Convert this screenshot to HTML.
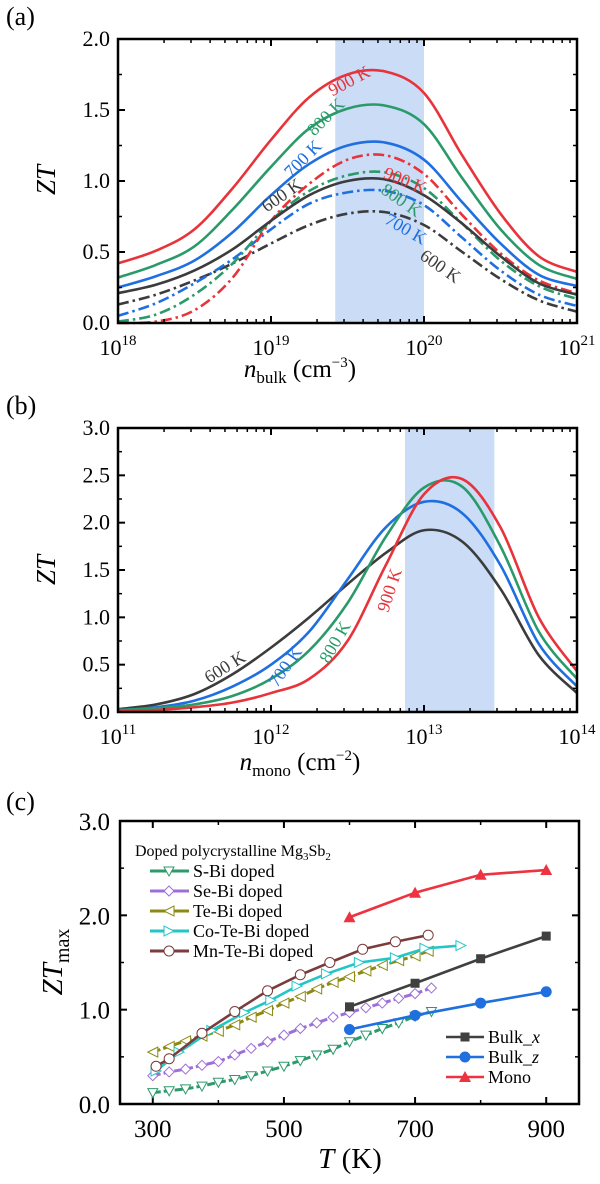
<!DOCTYPE html>
<html><head><meta charset="utf-8">
<style>
html,body{margin:0;padding:0;background:#fff;}
svg, svg text{font-family:"Liberation Serif","DejaVu Serif",serif;}
</style></head>
<body>
<svg id="fig" width="600" height="1179" viewBox="0 0 600 1179" xmlns="http://www.w3.org/2000/svg" font-family="Liberation Serif, DejaVu Serif, serif"></svg>
<script>
// ---------- Panel (a) data ----------
const aLogN = [18,18.25,18.5,18.75,19,19.25,19.5,19.75,20,20.25,20.5,20.75,21];
const aSolid900 = [0.42,0.51,0.66,0.95,1.29,1.59,1.75,1.77,1.62,1.18,0.77,0.47,0.36];
const aSolid800 = [0.32,0.41,0.54,0.80,1.10,1.37,1.51,1.53,1.40,1.02,0.66,0.41,0.31];
const aSolid700 = [0.25,0.33,0.44,0.64,0.90,1.12,1.25,1.27,1.15,0.85,0.56,0.34,0.26];
const aSolid600 = [0.21,0.27,0.37,0.52,0.72,0.90,1.00,1.01,0.90,0.70,0.47,0.28,0.20];
const aDash900 = [0.00,0.01,0.09,0.32,0.72,0.98,1.15,1.18,1.05,0.76,0.49,0.30,0.21];
const aDash800 = [0.01,0.06,0.20,0.42,0.72,0.93,1.04,1.06,0.95,0.70,0.44,0.26,0.17];
const aDash700 = [0.05,0.14,0.28,0.45,0.66,0.84,0.92,0.93,0.83,0.60,0.37,0.20,0.12];
const aDash600 = [0.13,0.20,0.30,0.42,0.56,0.69,0.77,0.78,0.69,0.50,0.31,0.16,0.08];
const aBand = [19.42, 20.0];
const aYTicks = [0,0.5,1.0,1.5,2.0];
const aXDecades = [18,19,20,21];
// ---------- Panel (b) data ----------
const bLogN = [11,11.25,11.5,11.75,12,12.25,12.5,12.75,13,13.25,13.5,13.75,14];
const b600 = [0.03,0.08,0.19,0.40,0.68,1.00,1.35,1.68,1.92,1.80,1.30,0.60,0.20];
const b700 = [0.02,0.05,0.12,0.27,0.50,0.85,1.40,1.95,2.22,2.10,1.55,0.72,0.27];
const b800 = [0.02,0.04,0.08,0.17,0.35,0.65,1.15,1.85,2.37,2.38,1.75,0.85,0.35];
const b900 = [0.01,0.02,0.05,0.10,0.20,0.35,0.75,1.55,2.30,2.46,1.95,1.00,0.43];
const bBand = [12.876, 13.46];
const bYTicks = [0,0.5,1.0,1.5,2.0,2.5,3.0];
const bXDecades = [11,12,13,14];
// ---------- Panel (c) data ----------
const cBulkT = [600,700,800,900];
const cBulkX = [1.03,1.28,1.54,1.78];
const cBulkZ = [0.79,0.94,1.07,1.19];
const cMono = [1.98,2.24,2.43,2.48];
const cSBiT = [300,325,350,375,400,425,450,475,500,525,550,575,600,625,650,675,700,725];
const cSBi = [0.12,0.14,0.16,0.19,0.23,0.26,0.30,0.35,0.40,0.46,0.52,0.58,0.66,0.73,0.80,0.86,0.93,0.98];
const cSeBiT = [300,325,350,375,400,425,450,475,500,525,550,575,600,625,650,675,700,725];
const cSeBi = [0.30,0.34,0.37,0.41,0.45,0.52,0.59,0.66,0.73,0.80,0.86,0.92,0.97,1.02,1.07,1.12,1.17,1.23];
const cTeBiT = [300,325,350,375,400,425,450,475,500,525,550,575,600,625,650,675,700,720];
const cTeBi = [0.55,0.61,0.67,0.72,0.77,0.84,0.92,0.99,1.07,1.14,1.22,1.29,1.35,1.41,1.47,1.52,1.57,1.62];
const cCoT = [305,340,390,440,480,520,565,615,670,715,770];
const cCo = [0.35,0.55,0.78,0.97,1.10,1.25,1.38,1.50,1.55,1.65,1.68];
const cMnT = [305,325,375,425,475,525,570,620,670,720];
const cMn = [0.40,0.48,0.75,0.98,1.20,1.37,1.50,1.64,1.72,1.79];
const cYTicks = [0,1.0,2.0,3.0];
const cXTicks = [300,500,700,900];

const NS="http://www.w3.org/2000/svg";
const FF="Liberation Serif, DejaVu Serif, serif";
const svg=document.getElementById('fig');
function el(tag,attrs,parent){const e=document.createElementNS(NS,tag);for(const k in attrs)e.setAttribute(k,attrs[k]);if(tag==='text')e.setAttribute('font-family',FF);(parent||svg).appendChild(e);return e;}
function smooth(pts){
  let d=`M${pts[0][0]},${pts[0][1]}`;
  for(let i=0;i<pts.length-1;i++){
    const p0=pts[i-1]||pts[i],p1=pts[i],p2=pts[i+1],p3=pts[i+2]||p2;
    const c1=[p1[0]+(p2[0]-p0[0])/6,p1[1]+(p2[1]-p0[1])/6];
    const c2=[p2[0]-(p3[0]-p1[0])/6,p2[1]-(p3[1]-p1[1])/6];
    d+=` C${c1[0]},${c1[1]} ${c2[0]},${c2[1]} ${p2[0]},${p2[1]}`;
  }
  return d;
}
const RED="#e8333a",GRN="#2a9a6a",BLU="#1f6fe0",BLK="#3c3c3c";

function logAxes(g,L,R,T,B,dec,yt,ymax){
  const xs=v=>L+(v-dec[0])/(dec[dec.length-1]-dec[0])*(R-L);
  const ys=v=>B-v/ymax*(B-T);
  for(let i=0;i<dec.length;i++){
    const x=xs(dec[i]);
    [[B,B-7],[T,T+7]].forEach(([a,b])=>{const t=el('line',{x1:x,x2:x,y1:a,y2:b,stroke:'#000','stroke-width':2},g);});
    if(i<dec.length-1){for(let m=2;m<=9;m++){const xm=xs(dec[i]+Math.log10(m));
      [[B,B-4],[T,T+4]].forEach(([a,b])=>{const t=el('line',{x1:xm,x2:xm,y1:a,y2:b,stroke:'#000','stroke-width':1.5},g);});}}
    const tl=el('text',{x:x,y:B+32,'font-size':22,'text-anchor':'middle'},g);
    
    
    tl.innerHTML=`10<tspan dy="-10" font-size="15">${dec[i]}</tspan>`;
  }
  yt.forEach((v,i)=>{const y=ys(v);
    [[L,L+7],[R,R-7]].forEach(([a,b])=>{const t=el('line',{x1:a,x2:b,y1:y,y2:y,stroke:'#000','stroke-width':2},g);});
    if(i<yt.length-1){const ym=ys((v+yt[i+1])/2);[[L,L+4],[R,R-4]].forEach(([a,b])=>{const t=el('line',{x1:a,x2:b,y1:ym,y2:ym,stroke:'#000','stroke-width':1.5},g);});}
    const tl=el('text',{x:L-8,y:y+7,'font-size':22,'text-anchor':'end'},g);
    
    
    tl.textContent=v.toFixed(1);
  });
  return {xs,ys};
}
function frame(g,L,R,T,B){const f=el('rect',{x:L,y:T,width:R-L,height:B-T,fill:'none',stroke:'#000','stroke-width':2.5},g);}
function curve(g,xs,ys,X,Y,color,dash,name){
  const pts=X.map((x,i)=>[xs(x),ys(Y[i])]);
  const p=el('path',{d:smooth(pts),fill:'none',stroke:color,'stroke-width':2.6},g);
  if(dash)p.setAttribute('stroke-dasharray','11,4,2.5,4');
  
  
}
function rlabel(g,x,y,rot,color,txt){
  const t=el('text',{x:x,y:y,'font-size':18,fill:color,'text-anchor':'middle',transform:`rotate(${rot} ${x} ${y})`},g);
  
  
  t.textContent=txt;
}
function panelLetter(txt,y){const t=el('text',{x:6,y:y,'font-size':26});t.textContent=txt;}

// ===== Panel (a) =====
(function(){
  const g=el('g',{});
  const L=118,R=577,T=39,B=323;
  const xs=v=>L+(v-18)/3*(R-L), ys=v=>B-v/2*(B-T);
  const band=el('rect',{x:xs(aBand[0]),y:T,width:xs(aBand[1])-xs(aBand[0]),height:B-T,fill:'#cadcf6'},g);
  
  curve(g,xs,ys,aLogN,aDash600,BLK,true,'line-600k-z');
  curve(g,xs,ys,aLogN,aDash700,BLU,true,'line-700k-z');
  curve(g,xs,ys,aLogN,aDash800,GRN,true,'line-800k-z');
  curve(g,xs,ys,aLogN,aDash900,RED,true,'line-900k-z');
  curve(g,xs,ys,aLogN,aSolid600,BLK,false,'line-600k-x');
  curve(g,xs,ys,aLogN,aSolid700,BLU,false,'line-700k-x');
  curve(g,xs,ys,aLogN,aSolid800,GRN,false,'line-800k-x');
  curve(g,xs,ys,aLogN,aSolid900,RED,false,'line-900k-x');
  logAxes(g,L,R,T,B,aXDecades,aYTicks,2);
  frame(g,L,R,T,B);
  rlabel(g,352,86,-28,RED,'900 K');
  rlabel(g,330,121,-45,GRN,'800 K');
  rlabel(g,307,163,-45,BLU,'700 K');
  rlabel(g,285,200,-35,BLK,'600 K');
  rlabel(g,403,186,22,RED,'900 K');
  rlabel(g,398,205,35,GRN,'800 K');
  rlabel(g,403,234,30,BLU,'700 K');
  rlabel(g,437,271,35,BLK,'600 K');
  const yl=el('text',{x:0,y:0,'font-size':27,'font-style':'italic',transform:'translate(55,180) rotate(-90)','text-anchor':'middle'},g);
  yl.textContent='ZT';
  const xl=el('text',{x:300,y:377,'font-size':25,'text-anchor':'middle'},g);
  
  xl.innerHTML='<tspan font-style="italic">n</tspan><tspan font-size="17" dy="6">bulk</tspan><tspan dy="-6"> (cm</tspan><tspan font-size="15" dy="-10">−3</tspan><tspan dy="10">)</tspan>';
})();
panelLetter('(a)',25);

// ===== Panel (b) =====
(function(){
  const g=el('g',{});
  const L=118,R=577,T=428,B=712;
  const xs=v=>L+(v-11)/3*(R-L), ys=v=>B-v/3*(B-T);
  const band=el('rect',{x:xs(bBand[0]),y:T,width:xs(bBand[1])-xs(bBand[0]),height:B-T,fill:'#cadcf6'},g);
  
  curve(g,xs,ys,bLogN,b600,BLK,false,'line-600k');
  curve(g,xs,ys,bLogN,b700,BLU,false,'line-700k');
  curve(g,xs,ys,bLogN,b800,GRN,false,'line-800k');
  curve(g,xs,ys,bLogN,b900,RED,false,'line-900k');
  logAxes(g,L,R,T,B,bXDecades,bYTicks,3);
  frame(g,L,R,T,B);
  rlabel(g,228,672,-32,BLK,'600 K');
  rlabel(g,290,670,-55,BLU,'700 K');
  rlabel(g,340,645,-60,GRN,'800 K');
  rlabel(g,395,592,-72,RED,'900 K');
  const yl=el('text',{x:0,y:0,'font-size':27,'font-style':'italic',transform:'translate(55,570) rotate(-90)','text-anchor':'middle'},g);
  yl.textContent='ZT';
  const xl=el('text',{x:300,y:770,'font-size':25,'text-anchor':'middle'},g);
  
  xl.innerHTML='<tspan font-style="italic">n</tspan><tspan font-size="17" dy="6">mono</tspan><tspan dy="-6"> (cm</tspan><tspan font-size="15" dy="-10">−2</tspan><tspan dy="10">)</tspan>';
})();
panelLetter('(b)',414);

// ===== Panel (c) =====
(function(){
  const g=el('g',{});
  const L=120,R=579,T=821,B=1104;
  const xs=v=>L+(v-250)/700*(R-L), ys=v=>B-v/3*(B-T);
  cXTicks.forEach(v=>{const x=xs(v);
    [[B,B-7],[T,T+7]].forEach(([a,b])=>{const t=el('line',{x1:x,x2:x,y1:a,y2:b,stroke:'#000','stroke-width':2},g);});
    const tl=el('text',{x:x,y:B+33,'font-size':25,'text-anchor':'middle'},g);
    tl.textContent=v;});
  [400,600,800].forEach(v=>{const x=xs(v);[[B,B-4],[T,T+4]].forEach(([a,b])=>{const t=el('line',{x1:x,x2:x,y1:a,y2:b,stroke:'#000','stroke-width':1.5},g);});});
  cYTicks.forEach(v=>{const y=ys(v);
    [[L,L+7],[R,R-7]].forEach(([a,b])=>{const t=el('line',{x1:a,x2:b,y1:y,y2:y,stroke:'#000','stroke-width':2},g);});
    const tl=el('text',{x:L-10,y:y+9,'font-size':25,'text-anchor':'end'},g);
    tl.textContent=v.toFixed(1);});
  [0.5,1.5,2.5].forEach(v=>{const y=ys(v);[[L,L+4],[R,R-4]].forEach(([a,b])=>{const t=el('line',{x1:a,x2:b,y1:y,y2:y,stroke:'#000','stroke-width':1.5},g);});});

  function marker(type,x,y,color,fill,s){
    s=s||5;let m;
    if(type==='sq')m=el('rect',{x:x-s,y:y-s,width:2*s,height:2*s,fill:color},g);
    else if(type==='circ')m=el('circle',{cx:x,cy:y,r:s,fill:fill||color,stroke:color,'stroke-width':1},g);
    else if(type==='up')m=el('polygon',{points:`${x},${y-s-1} ${x+s+1},${y+s} ${x-s-1},${y+s}`,fill:color},g);
    else if(type==='down')m=el('polygon',{points:`${x-s},${y-s+1} ${x+s},${y-s+1} ${x},${y+s}`,fill:'#fff',stroke:color,'stroke-width':1},g);
    else if(type==='dia')m=el('polygon',{points:`${x},${y-s} ${x+s},${y} ${x},${y+s} ${x-s},${y}`,fill:'#fff',stroke:color,'stroke-width':1},g);
    else if(type==='left')m=el('polygon',{points:`${x-s},${y} ${x+s},${y-s} ${x+s},${y+s}`,fill:'#fff',stroke:color,'stroke-width':1},g);
    else if(type==='right')m=el('polygon',{points:`${x+s},${y} ${x-s},${y-s} ${x-s},${y+s}`,fill:'#fff',stroke:color,'stroke-width':1},g);
    else if(type==='ocirc')m=el('circle',{cx:x,cy:y,r:s,fill:'#fff',stroke:color,'stroke-width':1},g);
    
    
  }
  function series(T_,V,color,type,name,dashed,sz){
    const pts=T_.map((t,i)=>[xs(t),ys(V[i])]);
    const p=el('polyline',{points:pts.map(p=>p.join(',')).join(' '),fill:'none',stroke:color,'stroke-width':dashed?3:2.6},g);
    if(dashed)p.setAttribute('stroke-dasharray','8,3');
    
    
    pts.forEach(q=>marker(type,q[0],q[1],color,null,sz));
  }
  const cSBc='#2e9a6c',cSec='#9e6fd8',cTec='#8c8a12',cCoc='#22c6c6',cMnc='#7a3c3c';
  series(cSBiT,cSBi,cSBc,'down','s-bi-series',true,5);
  series(cSeBiT,cSeBi,cSec,'dia','se-bi-series',true,5);
  series(cTeBiT,cTeBi,cTec,'left','te-bi-series',true,5);
  series(cCoT,cCo,cCoc,'right','co-te-bi-series',false,5);
  series(cMnT,cMn,cMnc,'ocirc','mn-te-bi-series',false,5);
  series(cBulkT,cBulkX,'#404040','sq','bulk-x-series',false,4.5);
  series(cBulkT,cBulkZ,'#1f6fe0','circ','bulk-z-series',false,5);
  series(cBulkT,cMono,'#ee3340','up','mono-series',false,5);
  frame(g,L,R,T,B);

  const lt=el('text',{x:135,y:856,'font-size':16},g);
  
  lt.innerHTML='Doped polycrystalline Mg<tspan font-size="11" dy="4">3</tspan><tspan dy="-4">Sb</tspan><tspan font-size="11" dy="4">2</tspan>';
  const leg=[['S-Bi doped',cSBc,'down'],['Se-Bi doped',cSec,'dia'],['Te-Bi doped',cTec,'left'],['Co-Te-Bi doped',cCoc,'right'],['Mn-Te-Bi doped',cMnc,'ocirc']];
  leg.forEach((e,i)=>{const y=871+i*20;
    const ln=el('line',{x1:150,x2:189,y1:y,y2:y,stroke:e[1],'stroke-width':3},g);
    
    marker(e[2],169,y,e[1],null,5);
    const t=el('text',{x:193,y:y+6,'font-size':18},g);
    t.textContent=e[0];});
  const leg2=[['Bulk_x','#404040','sq'],['Bulk_z','#1f6fe0','circ'],['Mono','#ee3340','up']];
  leg2.forEach((e,i)=>{const y=1037+i*20;
    const ln=el('line',{x1:446,x2:484,y1:y,y2:y,stroke:e[1],'stroke-width':2.6},g);
    
    marker(e[2],465,y,e[1],null,e[2]==='sq'?4.5:5);
    const t=el('text',{x:488,y:y+6,'font-size':18},g);
    
    t.innerHTML=e[0]==='Mono'?'Mono':`Bulk_<tspan font-style="italic">${e[0].slice(-1)}</tspan>`;});

  const yl=el('text',{x:0,y:0,'font-size':29,transform:'translate(62,962) rotate(-90)','text-anchor':'middle'},g);
  
  yl.innerHTML='<tspan font-style="italic">ZT</tspan><tspan font-size="20" dy="7">max</tspan>';
  const xl=el('text',{x:350,y:1168,'font-size':29,'text-anchor':'middle'},g);
  
  xl.innerHTML='<tspan font-style="italic">T</tspan> (K)';
})();
panelLetter('(c)',810);
</script>
</body></html>
